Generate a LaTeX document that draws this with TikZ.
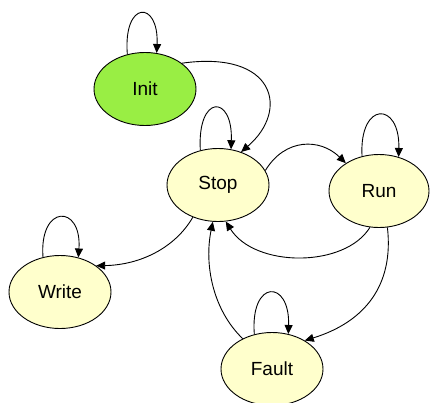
\documentclass[tikz,border=0pt]{standalone}
\usepackage{fontspec}
\setmainfont{Liberation Sans}
\usetikzlibrary{shapes.geometric,arrows.meta}
\definecolor{statefill}{RGB}{255,255,204}
\definecolor{initfill}{RGB}{153,238,68}
\tikzset{
  state/.style={ellipse,draw=black,line width=0.9pt,fill=statefill,minimum width=102pt,minimum height=73pt,inner sep=0pt,font=\fontsize{19}{21}\selectfont},
  trans/.style={draw=black,line width=0.9pt,-{Triangle[length=9pt,width=8pt]}}
}
\begin{document}
\begin{tikzpicture}[x=1pt,y=-1pt]
\useasboundingbox (0,0) rectangle (431,402);
\node[state,fill=initfill] (init) at (145,89) {Init};
\node[state] (stop) at (218,185) {Stop};
\node[state,minimum width=100pt] (run) at (379,191) {Run};
\node[state] (write) at (60,292) {Write};
\node[state] (fault) at (272,369) {Fault};
% self loops
\draw[trans] (init.117) .. controls (123,0) and (159,0) .. (init.72);
\draw[trans] (stop.117) .. controls (197,94) and (233,94) .. (stop.70);
\draw[trans] (run.116) .. controls (359,101) and (400,101) .. (run.60);
\draw[trans] (write.116) .. controls (39,204) and (82,204) .. (write.62);
\draw[trans] (fault.117) .. controls (250,279) and (290,279) .. (fault.65);
% transitions
\draw[trans] (init.35) .. controls (275,50) and (290,110) .. (stop.55);
\draw[trans] (stop.17) .. controls (285,138) and (320,138) .. (run.140);
\draw[trans] (run.256) .. controls (345,268) and (255,268) .. (stop.282);
\draw[trans] (stop.232) .. controls (175,248) and (140,265) .. (write.36);
\draw[trans] (run.283) .. controls (394,285) and (365,322) .. (fault.41);
\draw[trans] (fault.134) .. controls (213,310) and (204,265) .. (stop.262);
\end{tikzpicture}
\end{document}
